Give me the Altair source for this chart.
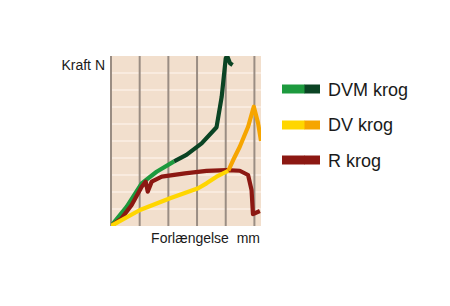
import altair as alt
import pandas as pd

# ---- data (x: elongation units, y: force units) ----
dvm_x = [0, 0.55, 1.07, 1.59, 2.2, 2.63, 3.16, 3.68, 3.86, 4.0, 4.05, 4.15, 4.24]
dvm_y = [0, 1.14, 2.51, 3.19, 3.8, 4.18, 4.86, 5.81, 7.61, 9.86, 10.0, 9.57, 9.47]
dvm_split = 4  # index where colour changes

dv_x = [0, 1.01, 2.06, 3.04, 3.33, 3.68, 4.09, 4.26, 4.49, 4.78, 4.98, 5.13, 5.23]
dv_y = [0, 0.94, 1.63, 2.22, 2.51, 2.9, 3.25, 3.88, 4.66, 5.84, 7.02, 6.04, 5.0]
dv_split = 6

r_x = [0, 0.37, 0.72, 1.07, 1.21, 1.28, 1.42, 1.77, 2.58, 3.33, 4.03, 4.49, 4.78, 4.9, 4.95, 5.19]
r_y = [0, 0.45, 1.24, 2.31, 2.61, 2.02, 2.61, 2.9, 3.1, 3.24, 3.29, 3.25, 3.0, 2.12, 0.7, 0.88]

x_grid = [0, 1, 2, 3, 4, 5]
y_grid = [1, 2, 3, 4, 5, 6, 7, 8, 9]

legend_labels = ["DVM krog", "DV krog", "R krog"]
legend_c1 = ["#1d9a3e", "#ffd600", "#8c1812"]
legend_c2 = ["#0b4424", "#f6a500", "#8c1812"]

FONT = "Liberation Sans"

def seg_df(xs, ys, split, name):
    rows = []
    for i, (a, b) in enumerate(zip(xs, ys)):
        if i <= split:
            rows.append({"x": a, "y": b, "seg": name + "1", "o": i})
        if i >= split:
            rows.append({"x": a, "y": b, "seg": name + "2", "o": i})
    return pd.DataFrame(rows)

dvm = seg_df(dvm_x, dvm_y, dvm_split, "dvm")
dv = seg_df(dv_x, dv_y, dv_split, "dv")
rk = pd.DataFrame({"x": r_x, "y": r_y, "seg": "r1", "o": range(len(r_x))})

xs = alt.Scale(domain=[0, 5.23], nice=False, zero=False)
ys = alt.Scale(domain=[0, 10], nice=False, zero=False)

cscale = alt.Scale(
    domain=["dvm1", "dvm2", "dv1", "dv2", "r1"],
    range=["#1d9a3e", "#0b4424", "#ffd600", "#f6a500", "#8c1812"],
)

hgrid = alt.Chart(pd.DataFrame({"y": y_grid})).mark_rule(
    color="#fbefe4", strokeWidth=1.5
).encode(y=alt.Y("y:Q", scale=ys, axis=None))

vgrid = alt.Chart(pd.DataFrame({"x": x_grid})).mark_rule(
    color="#9a8d83", strokeWidth=2
).encode(x=alt.X("x:Q", scale=xs, axis=None))

def curve(df):
    return alt.Chart(df).mark_line(strokeWidth=4.2, strokeJoin="round", strokeCap="butt", clip=True).encode(
        x=alt.X("x:Q", scale=xs, axis=None),
        y=alt.Y("y:Q", scale=ys, axis=None),
        color=alt.Color("seg:N", scale=cscale, legend=None),
        detail="seg:N",
        order="o:Q",
    )

leg = pd.DataFrame({"label": legend_labels, "c1": legend_c1, "c2": legend_c2,
                    "yy": [33, 69, 104], "ty": [39.7, 75, 110.5]})

sw1 = alt.Chart(leg).mark_rule(strokeWidth=9, strokeCap="butt").encode(
    x=alt.value(171), x2=alt.value(194), y=alt.Y("yy:Q", scale=None),
    color=alt.Color("c1:N", scale=None),
)
sw2 = alt.Chart(leg).mark_rule(strokeWidth=9, strokeCap="butt").encode(
    x=alt.value(193.5), x2=alt.value(209), y=alt.Y("yy:Q", scale=None),
    color=alt.Color("c2:N", scale=None),
)
ltext = alt.Chart(leg).mark_text(align="left", baseline="alphabetic", fontSize=18, font=FONT, color="#1a1a1a").encode(
    x=alt.value(217), y=alt.Y("ty:Q", scale=None), text="label:N"
)

ylab = alt.Chart(pd.DataFrame({"t": ["Kraft N"]})).mark_text(
    align="right", baseline="alphabetic", fontSize=14, font=FONT, color="#1a1a1a"
).encode(x=alt.value(-6), y=alt.value(14), text="t:N")
xlab = alt.Chart(pd.DataFrame({"t": ["Forlængelse\u00a0\u00a0mm"]})).mark_text(
    align="right", baseline="alphabetic", fontSize=14, font=FONT, color="#1a1a1a"
).encode(x=alt.value(149), y=alt.value(187), text="t:N")

chart = alt.layer(
    hgrid, vgrid, curve(dvm), curve(rk), curve(dv), sw1, sw2, ltext, ylab, xlab
).properties(
    width=150, height=170,
    padding={"left": 111, "top": 56, "right": 189, "bottom": 80},
    autosize=alt.AutoSizeParams(type="none"),
    background="white",
).configure_view(fill="#f2dfcd", stroke=None)

chart.save("out.html", embed_options={"renderer": "svg", "actions": False})
